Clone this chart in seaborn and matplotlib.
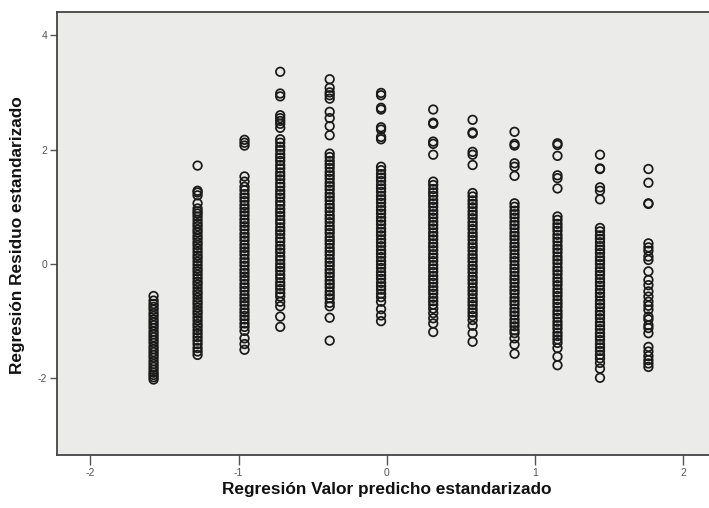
import matplotlib
matplotlib.use("Agg")
import matplotlib.pyplot as plt
import seaborn as sns
import pandas as pd

# Valores predichos estandarizados (una columna por nivel)
pred_values = [-1.574, -1.277, -0.96, -0.719, -0.385, -0.038,
               0.314, 0.58, 0.863, 1.153, 1.44, 1.767]

res_c1 = [-0.56, -0.64, -0.70, -0.75, -0.80, -0.86, -0.91, -0.97, -1.02, -1.07,
          -1.12, -1.18, -1.23, -1.28, -1.33, -1.38, -1.44, -1.49, -1.54, -1.59,
          -1.64, -1.70, -1.75, -1.80, -1.85, -1.90, -1.94, -1.98, -2.02]
res_c2 = [1.72, 1.28, 1.25, 1.20, 1.06, 0.97, 0.92, 0.88, 0.83, 0.77, 0.71, 0.66,
          0.60, 0.55, 0.49, 0.44, 0.38, 0.33, 0.27, 0.21, 0.15, 0.10, 0.04, -0.02,
          -0.08, -0.13, -0.19, -0.25, -0.31, -0.36, -0.42, -0.48, -0.53, -0.59,
          -0.65, -0.70, -0.76, -0.82, -0.87, -0.93, -0.99, -1.05, -1.10, -1.16,
          -1.22, -1.28, -1.34, -1.40, -1.47, -1.53, -1.59]
res_c3 = [2.17, 2.12, 2.07, 1.53, 1.44, 1.35, 1.29, 1.22, 1.16, 1.10, 1.03, 0.97,
          0.91, 0.85, 0.78, 0.72, 0.66, 0.60, 0.53, 0.47, 0.41, 0.34, 0.28, 0.22,
          0.16, 0.09, 0.03, -0.03, -0.10, -0.16, -0.22, -0.28, -0.35, -0.41, -0.47,
          -0.54, -0.60, -0.66, -0.72, -0.79, -0.85, -0.91, -0.97, -1.04, -1.10,
          -1.17, -1.30, -1.40, -1.50]
res_c4 = [3.36, 2.98, 2.93, 2.60, 2.55, 2.50, 2.45, 2.38, 2.18, 2.12, 2.05, 1.99,
          1.92, 1.86, 1.80, 1.73, 1.67, 1.60, 1.54, 1.48, 1.41, 1.35, 1.28, 1.22,
          1.16, 1.09, 1.03, 0.96, 0.90, 0.84, 0.77, 0.71, 0.64, 0.58, 0.52, 0.45,
          0.39, 0.32, 0.26, 0.20, 0.13, 0.07, 0.00, -0.06, -0.12, -0.19, -0.25,
          -0.32, -0.38, -0.44, -0.51, -0.57, -0.66, -0.74, -0.92, -1.10]
res_c5 = [3.23, 3.08, 3.00, 2.95, 2.89, 2.66, 2.55, 2.41, 2.25, 1.93, 1.87, 1.80,
          1.74, 1.68, 1.61, 1.55, 1.49, 1.42, 1.36, 1.30, 1.23, 1.17, 1.11, 1.04,
          0.98, 0.92, 0.85, 0.79, 0.73, 0.66, 0.60, 0.54, 0.47, 0.41, 0.35, 0.28,
          0.22, 0.16, 0.09, 0.03, -0.03, -0.10, -0.16, -0.22, -0.29, -0.35, -0.41,
          -0.48, -0.54, -0.60, -0.68, -0.74, -0.94, -1.34]
res_c6 = [2.99, 2.95, 2.73, 2.70, 2.39, 2.35, 2.22, 2.18, 1.70, 1.64, 1.57, 1.51,
          1.45, 1.38, 1.32, 1.26, 1.19, 1.13, 1.07, 1.00, 0.94, 0.88, 0.81, 0.75,
          0.69, 0.62, 0.56, 0.50, 0.43, 0.37, 0.31, 0.24, 0.18, 0.12, 0.05, -0.01,
          -0.07, -0.14, -0.20, -0.26, -0.33, -0.39, -0.45, -0.52, -0.58, -0.66,
          -0.79, -0.90, -1.00]
res_c7 = [2.70, 2.47, 2.45, 2.14, 2.10, 1.91, 1.44, 1.38, 1.31, 1.25, 1.19, 1.12,
          1.06, 1.00, 0.93, 0.87, 0.81, 0.74, 0.68, 0.62, 0.55, 0.49, 0.43, 0.36,
          0.30, 0.24, 0.17, 0.11, 0.05, -0.02, -0.08, -0.14, -0.21, -0.27, -0.33,
          -0.40, -0.46, -0.52, -0.59, -0.65, -0.71, -0.78, -0.86, -0.95, -1.04, -1.19]
res_c8 = [2.52, 2.30, 2.28, 1.96, 1.91, 1.73, 1.24, 1.18, 1.11, 1.05, 0.99, 0.92,
          0.86, 0.80, 0.73, 0.67, 0.61, 0.54, 0.48, 0.42, 0.35, 0.29, 0.23, 0.16,
          0.10, 0.04, -0.03, -0.09, -0.15, -0.22, -0.28, -0.34, -0.41, -0.47, -0.53,
          -0.60, -0.66, -0.72, -0.79, -0.85, -0.91, -0.98, -1.08, -1.21, -1.36]
res_c9 = [2.31, 2.10, 2.07, 1.76, 1.70, 1.54, 1.06, 1.00, 0.93, 0.87, 0.81, 0.74,
          0.68, 0.62, 0.55, 0.49, 0.43, 0.36, 0.30, 0.24, 0.17, 0.11, 0.05, -0.02,
          -0.08, -0.14, -0.21, -0.27, -0.33, -0.40, -0.46, -0.52, -0.59, -0.65,
          -0.71, -0.78, -0.84, -0.90, -0.97, -1.03, -1.09, -1.16, -1.21, -1.30,
          -1.41, -1.57]
res_c10 = [2.11, 2.08, 1.89, 1.55, 1.50, 1.32, 0.83, 0.77, 0.70, 0.64, 0.58, 0.51,
           0.45, 0.39, 0.32, 0.26, 0.20, 0.13, 0.07, 0.01, -0.06, -0.12, -0.18,
           -0.25, -0.31, -0.37, -0.44, -0.50, -0.56, -0.63, -0.69, -0.75, -0.82,
           -0.88, -0.94, -1.01, -1.07, -1.13, -1.20, -1.26, -1.32, -1.38, -1.47,
           -1.62, -1.77]
res_c11 = [1.91, 1.67, 1.66, 1.34, 1.28, 1.13, 0.63, 0.57, 0.50, 0.44, 0.38, 0.31,
           0.25, 0.19, 0.12, 0.06, 0.00, -0.07, -0.13, -0.19, -0.26, -0.32, -0.38,
           -0.45, -0.51, -0.57, -0.64, -0.70, -0.76, -0.83, -0.89, -0.95, -1.02,
           -1.08, -1.14, -1.21, -1.27, -1.33, -1.40, -1.46, -1.52, -1.59, -1.65,
           -1.73, -1.83, -1.99]
res_c12 = [1.66, 1.42, 1.06, 1.05, 0.36, 0.29, 0.23, 0.13, 0.07, -0.13, -0.28,
           -0.37, -0.48, -0.57, -0.66, -0.73, -0.80, -0.92, -0.97, -1.07, -1.12,
           -1.21, -1.45, -1.53, -1.61, -1.68, -1.74, -1.80]

residuals = [res_c1, res_c2, res_c3, res_c4, res_c5, res_c6,
             res_c7, res_c8, res_c9, res_c10, res_c11, res_c12]

rows = []
for xv, col in zip(pred_values, residuals):
    for yv in col:
        rows.append({"pred": xv, "resid": yv})
df = pd.DataFrame(rows)

sns.set_style("white", {"axes.facecolor": "#ebebe9",
                        "xtick.bottom": True, "ytick.left": True})
plt.rcParams["font.family"] = ["Liberation Sans", "DejaVu Sans"]

fig = plt.figure(figsize=(7.09, 5.08), dpi=100)
ax = fig.add_axes([0.0804, 0.1043, 0.9196, 0.8715])

sns.scatterplot(data=df, x="pred", y="resid", ax=ax, marker="o",
                facecolors="none", edgecolor="#1a1a1a", linewidth=1.25, s=38)

ax.set_xlim(-2.226, 2.176)
ax.set_ylim(-3.34, 4.40)
ax.set_xticks([-2, -1, 0, 1, 2])
ax.set_yticks([-2, 0, 2, 4])
ax.set_xticklabels(["-2", "-1", "0", "1", "2"])
ax.set_yticklabels(["-2", "0", "2", "4"])
ax.tick_params(axis="both", direction="out", colors="#555555", labelsize=7.5,
               width=1, labelcolor="#555555", bottom=True, left=True)
ax.tick_params(axis="x", length=7, pad=2)
ax.tick_params(axis="y", length=5, pad=2)

for side in ["top", "left", "bottom"]:
    ax.spines[side].set_color("#444444")
    ax.spines[side].set_linewidth(1.3)
ax.spines["right"].set_visible(False)

ax.set_xlabel("Regresión Valor predicho estandarizado", fontsize=12.4,
              fontweight="bold", color="#111111", va="center")
ax.set_ylabel("Regresión Residuo estandarizado", fontsize=12.4,
              fontweight="bold", color="#111111", va="center")
ax.xaxis.set_label_coords(0.506, -0.079)
ax.yaxis.set_label_coords(-0.061, 0.497)

fig.savefig("out.png", dpi=100)
